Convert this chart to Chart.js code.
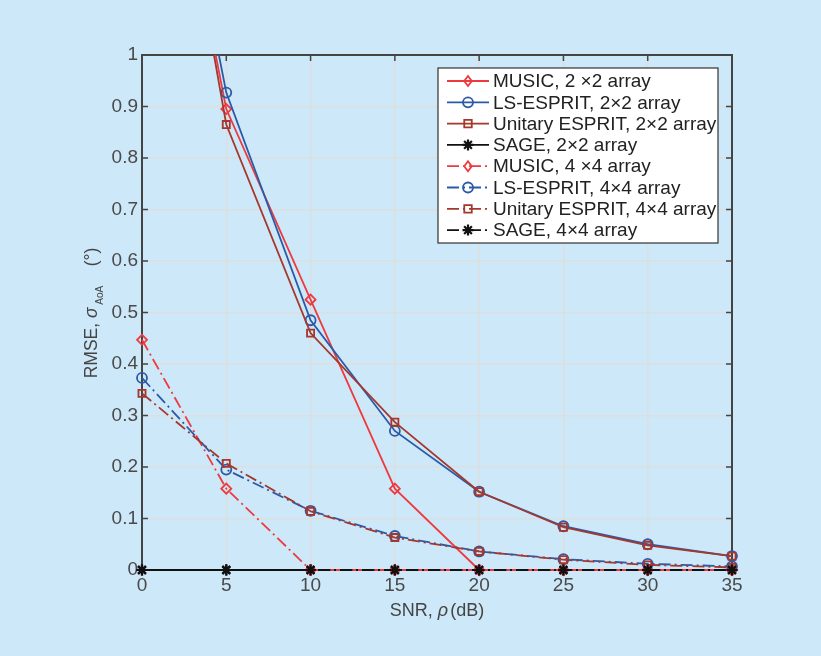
<!DOCTYPE html>
<html>
<head>
<meta charset="utf-8">
<script src="https://cdn.jsdelivr.net/npm/chart.js@4.4.0/dist/chart.umd.min.js"></script>
<style>
  html, body { margin: 0; padding: 0; background: #cde8f8; }
  #wrap { width: 821px; height: 656px; position: relative; }
</style>
</head>
<body>
<div id="wrap"><canvas id="rmseChart" width="821" height="656"></canvas></div>
<script>
// SNR points (dB) and RMSE of the AoA estimate (degrees)
const snr = [0, 5, 10, 15, 20, 25, 30, 35];
const music2 = [1.73, 0.895, 0.525, 0.158, 0, 0, 0, 0];
const lsEsprit2 = [1.76, 0.927, 0.485, 0.27, 0.152, 0.085, 0.05, 0.027];
const uniEsprit2 = [1.79, 0.865, 0.46, 0.287, 0.152, 0.083, 0.048, 0.027];
const sage2 = [0, 0, 0, 0, 0, 0, 0, 0];
const music4 = [0.447, 0.158, 0, 0, 0, 0, 0, 0];
const lsEsprit4 = [0.373, 0.195, 0.115, 0.066, 0.036, 0.021, 0.012, 0.007];
const uniEsprit4 = [0.343, 0.207, 0.114, 0.063, 0.036, 0.02, 0.01, 0.005];
const sage4 = [0, 0, 0, 0, 0, 0, 0, 0];

const seriesNames = [
  'MUSIC, 2 \u00d72 array', 'LS-ESPRIT, 2\u00d72 array', 'Unitary ESPRIT, 2\u00d72 array', 'SAGE, 2\u00d72 array',
  'MUSIC, 4 \u00d74 array', 'LS-ESPRIT, 4\u00d74 array', 'Unitary ESPRIT, 4\u00d74 array', 'SAGE, 4\u00d74 array'
];
const xTickLabels = ['0', '5', '10', '15', '20', '25', '30', '35'];
const yTickLabels = ['0', '0.1', '0.2', '0.3', '0.4', '0.5', '0.6', '0.7', '0.8', '0.9', '1'];

const RED = '#ee3a3e', BLUE = '#2a5aa8', BROWN = '#a5372c', BLACK = '#111111';
const DASHDOT = [12, 4, 2, 4];
const FONT = '"Liberation Sans", Arial, sans-serif';

function series(i, data, color, style, dash) {
  return {
    label: seriesNames[i],
    data: snr.map((x, k) => ({ x: x, y: data[k] })),
    borderColor: color,
    backgroundColor: 'rgba(0,0,0,0)',
    borderWidth: 1.8,
    borderDash: dash,
    pointStyle: style,
    pointRadius: style === 'star' ? 5.5 : 5,
    pointBorderWidth: style === 'star' ? 2.2 : 1.8,
    pointBorderColor: color,
    pointBackgroundColor: 'rgba(0,0,0,0)',
    tension: 0,
    order: 10 - i,
    clip: { left: 10, top: 0, right: 10, bottom: 10 }
  };
}

const datasets = [
  series(0, music2, RED, 'rectRot', []),
  series(1, lsEsprit2, BLUE, 'circle', []),
  series(2, uniEsprit2, BROWN, 'rect', []),
  series(3, sage2, BLACK, 'star', []),
  series(4, music4, RED, 'rectRot', DASHDOT),
  series(5, lsEsprit4, BLUE, 'circle', DASHDOT),
  series(6, uniEsprit4, BROWN, 'rect', DASHDOT),
  series(7, sage4, BLACK, 'star', DASHDOT)
];

// legend marker, same shapes as the chart points
function marker(ctx, style, r, x, y) {
  ctx.beginPath();
  if (style === 'circle') {
    ctx.arc(x, y, r, 0, Math.PI * 2);
  } else if (style === 'rect') {
    const s = r * 0.75;
    ctx.rect(x - s, y - s, 2 * s, 2 * s);
  } else if (style === 'rectRot') {
    ctx.moveTo(x, y - r); ctx.lineTo(x + r * 0.75, y);
    ctx.lineTo(x, y + r); ctx.lineTo(x - r * 0.75, y); ctx.closePath();
  } else {
    for (let k = 0; k < 4; k++) {
      const t = k * Math.PI / 4;
      ctx.moveTo(x - r * Math.cos(t), y - r * Math.sin(t));
      ctx.lineTo(x + r * Math.cos(t), y + r * Math.sin(t));
    }
  }
  ctx.stroke();
}

// axes box with inward ticks, titles and legend
const framePlugin = {
  id: 'frame',
  beforeDatasetsDraw(chart) {
    const { ctx, chartArea: a, scales } = chart;
    ctx.save();
    ctx.strokeStyle = '#444444';
    ctx.lineWidth = 2;
    ctx.strokeRect(a.left, a.top, a.right - a.left, a.bottom - a.top);
    ctx.lineWidth = 1.5;
    ctx.beginPath();
    snr.forEach(v => {
      const px = scales.x.getPixelForValue(v);
      ctx.moveTo(px, a.bottom); ctx.lineTo(px, a.bottom - 6);
      ctx.moveTo(px, a.top); ctx.lineTo(px, a.top + 6);
    });
    yTickLabels.forEach((t, k) => {
      const py = scales.y.getPixelForValue(k / 10);
      ctx.moveTo(a.left, py); ctx.lineTo(a.left + 6, py);
      ctx.moveTo(a.right, py); ctx.lineTo(a.right - 6, py);
    });
    ctx.stroke();
    ctx.restore();
  },
  afterDraw(chart) {
    const { ctx, chartArea: a } = chart;
    ctx.save();
    ctx.fillStyle = '#444444';
    ctx.textBaseline = 'alphabetic';

    // x-axis title: SNR, ρ (dB)
    const parts = [
      ['SNR, ', '18px ' + FONT],
      ['\u03c1', 'italic 18px ' + FONT],
      ['(dB)', '18px ' + FONT]
    ];
    let total = 0;
    parts.forEach(p => { ctx.font = p[1]; total += ctx.measureText(p[0]).width + (p[0] === '\u03c1' ? 2 : 0); });
    let x = (a.left + a.right) / 2 - total / 2;
    parts.forEach(p => {
      ctx.font = p[1];
      ctx.fillText(p[0], x, 616);
      x += ctx.measureText(p[0]).width + (p[0] === '\u03c1' ? 2 : 0);
    });

    // y-axis title: RMSE, σ_AoA (°)
    ctx.translate(97, 313);
    ctx.rotate(-Math.PI / 2);
    const yParts = [
      ['RMSE, ', '17.5px ' + FONT, 0],
      ['\u03c3', 'italic 17.5px ' + FONT, 0],
      [' AoA', '10px ' + FONT, 6],
      ['    (\u00b0)', '17.5px ' + FONT, 0]
    ];
    total = 0;
    yParts.forEach(p => { ctx.font = p[1]; total += ctx.measureText(p[0]).width; });
    x = -total / 2;
    yParts.forEach(p => {
      ctx.font = p[1];
      ctx.fillText(p[0], x, p[2]);
      x += ctx.measureText(p[0]).width;
    });
    ctx.restore();

    // legend box
    const lx = 438, ly = 68, lw = 280, lh = 175;
    ctx.save();
    ctx.fillStyle = '#ffffff';
    ctx.fillRect(lx, ly, lw, lh);
    ctx.strokeStyle = '#333333';
    ctx.lineWidth = 1.2;
    ctx.strokeRect(lx, ly, lw, lh);
    chart.data.datasets.forEach((ds, i) => {
      const cy = 81 + i * 21.3;
      ctx.strokeStyle = ds.borderColor;
      ctx.lineWidth = 1.8;
      ctx.setLineDash(ds.borderDash);
      ctx.beginPath();
      ctx.moveTo(447, cy); ctx.lineTo(489, cy);
      ctx.stroke();
      ctx.setLineDash([]);
      ctx.lineWidth = ds.pointBorderWidth;
      marker(ctx, ds.pointStyle, ds.pointRadius, 468, cy);
      ctx.fillStyle = '#222222';
      ctx.font = '19px ' + FONT;
      ctx.textBaseline = 'middle';
      ctx.fillText(ds.label, 493, cy + 1);
    });
    ctx.restore();
  }
};

new Chart(document.getElementById('rmseChart'), {
  type: 'line',
  data: { datasets: datasets },
  plugins: [framePlugin],
  options: {
    responsive: false,
    animation: false,
    layout: { padding: { top: 55, right: 89, left: 0, bottom: 0 } },
    plugins: { legend: { display: false }, tooltip: { enabled: false } },
    scales: {
      x: {
        type: 'linear', min: 0, max: 35,
        afterFit(s) { s.height = 86; },
        afterBuildTicks(s) { s.ticks = snr.map(v => ({ value: v })); },
        ticks: {
          color: '#4a4a4a', padding: 4, maxRotation: 0,
          font: { family: FONT, size: 19 },
          callback: (v, i) => xTickLabels[i]
        },
        grid: { color: '#dedede', lineWidth: 1.5, drawTicks: false },
        border: { display: false }
      },
      y: {
        min: 0, max: 1,
        afterFit(s) { s.width = 142; },
        afterBuildTicks(s) { s.ticks = yTickLabels.map((t, k) => ({ value: k / 10 })); },
        ticks: {
          color: '#4a4a4a', padding: 4,
          font: { family: FONT, size: 19 },
          callback: (v, i) => yTickLabels[i]
        },
        grid: { color: '#dedede', lineWidth: 1.5, drawTicks: false },
        border: { display: false }
      }
    }
  }
});
</script>
</body>
</html>
